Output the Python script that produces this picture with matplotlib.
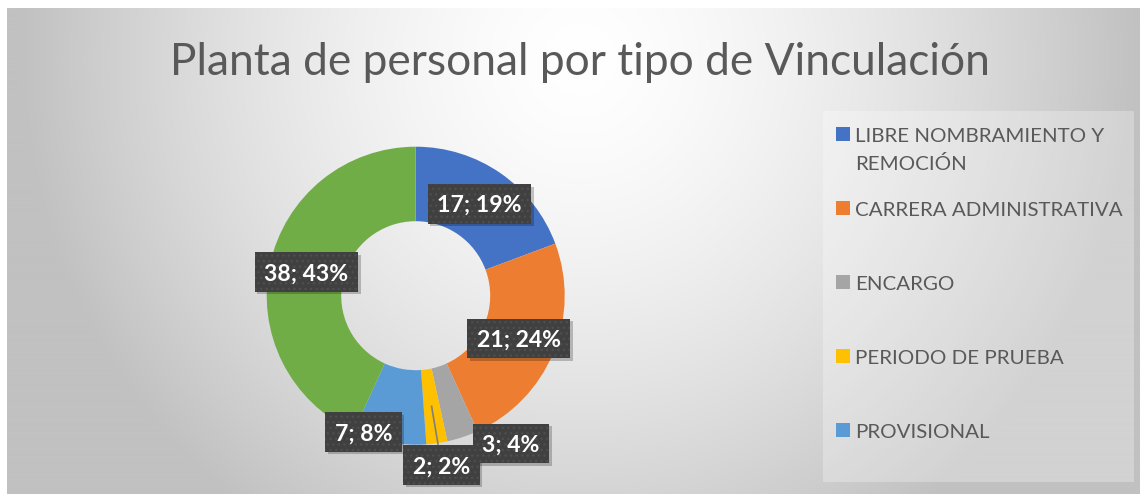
import numpy as np
import matplotlib
matplotlib.use("Agg")
import matplotlib.pyplot as plt
from matplotlib.patches import Rectangle

# ---------------- data ----------------
title = "Planta de personal por tipo de Vinculación"
categories = ["LIBRE NOMBRAMIENTO Y\nREMOCIÓN", "CARRERA ADMINISTRATIVA",
              "ENCARGO", "PERIODO DE PRUEBA", "PROVISIONAL", ""]
values = [17, 21, 3, 2, 7, 38]
percents = [19, 24, 4, 2, 8, 43]
colors = ["#4472C4", "#ED7D31", "#A5A5A5", "#FFC000", "#5B9BD5", "#70AD47"]

# ---------------- label placement (style) ----------------
label_r = [0.75, 0.75, 1.18, 1.15, 0.98, 0.75]
label_dang = [0, 0, 14.4, 0.5, -10.8, 0]
leader = [False, False, False, True, False, False]

W, H = 1140, 494
fig = plt.figure(figsize=(W / 100, H / 100), dpi=100)
fig.patch.set_facecolor("white")
FONT = "Lato"
TXT = "#595959"

# ---------------- background (pixel coordinates) ----------------
bg = fig.add_axes([0, 0, 1, 1])
bg.set_xlim(0, W)
bg.set_ylim(H, 0)
bg.axis("off")
yy, xx = np.mgrid[9:H, 7:W].astype(float)
d = np.sqrt((xx - 580) ** 2 + (yy - 60) ** 2) / 560.0
val = (255 - 62 * np.clip(d, 0, 1) ** 1.5) / 255.0
img = np.dstack([val, val, val])
bg.imshow(img, extent=[7, W, H, 9], aspect="auto", interpolation="bilinear", zorder=0)

# ---------------- donut ----------------
cx, cy, R = 415.7, 295.7, 149.0
k = 1.4
ax = fig.add_axes([(cx - R * k) / W, (H - cy - R * k) / H, 2 * R * k / W, 2 * R * k / H])
wedges, _ = ax.pie(values, colors=colors, startangle=90, counterclock=False, radius=1,
                   wedgeprops=dict(width=0.5, edgecolor="none", linewidth=0))
ax.set_xlim(-k, k)
ax.set_ylim(-k, k)
ax.axis("off")
ax.patch.set_alpha(0)

# ---------------- overlay (pixel coordinates) ----------------
ov = fig.add_axes([0, 0, 1, 1])
ov.set_xlim(0, W)
ov.set_ylim(H, 0)
ov.axis("off")
ov.patch.set_alpha(0)

renderer = fig.canvas.get_renderer()


def fit_size(txt, target, fs0=20, **kw):
    t = ov.text(0, 0, txt, fontsize=fs0, family=FONT, **kw)
    w = t.get_window_extent(renderer).width
    t.remove()
    return fs0 * target / w


def to_px(x, y):
    px, py = ax.transData.transform((x, y))
    return px, H - py


CAP = 0.72  # cap height / em

# title
fs_title = fit_size(title, 820)
ov.text(580, 75, title, fontsize=fs_title, family=FONT, color=TXT,
        ha="center", va="baseline")

# labels
fs_lab = fit_size("17; 19%", 84, fontweight="bold")
cap_lab = CAP * fs_lab * 100 / 72
for i, w in enumerate(wedges):
    mid = np.deg2rad((w.theta1 + w.theta2) / 2)
    ang = mid + np.deg2rad(label_dang[i])
    lx, ly = label_r[i] * np.cos(ang), label_r[i] * np.sin(ang)
    px, py = to_px(lx, ly)
    if leader[i]:
        sx, sy = to_px(0.75 * np.cos(mid), 0.75 * np.sin(mid))
        ov.plot([sx, px], [sy, py], color="#7f7f7f", lw=1.2, zorder=2)
    s = f"{values[i]}; {percents[i]}%"
    t = ov.text(px, py + cap_lab / 2, s, fontsize=fs_lab, family=FONT,
                fontweight="bold", color="white", ha="center", va="baseline", zorder=6)
    tw = t.get_window_extent(renderer).width
    bw, bh = tw + 19, 39.5
    ov.add_patch(Rectangle((px - bw / 2 + 2.5, py - bh / 2 + 2.5), bw, bh,
                           facecolor="black", alpha=0.22, lw=0, zorder=3))
    ov.add_patch(Rectangle((px - bw / 2, py - bh / 2), bw, bh, facecolor="#404040",
                           edgecolor="#4e4e4e", hatch="...", lw=0, zorder=4))

# legend
ov.add_patch(Rectangle((822.7, 110.7), 1134 - 822.7, 481.7 - 110.7,
                       facecolor="white", alpha=0.28, lw=0, zorder=1))
fs_leg = fit_size("CARRERA ADMINISTRATIVA", 267)
cap_leg = CAP * fs_leg * 100 / 72
leg_y0, leg_step, line_step = 134.3, 74.0, 28.5
n = 0
for i, name in enumerate(categories):
    if not name:
        continue
    yc = leg_y0 + n * leg_step
    ov.add_patch(Rectangle((836, yc - 7), 14, 14, facecolor=colors[i], lw=0, zorder=2))
    for j, line in enumerate(name.split("\n")):
        ov.text(855, yc + cap_leg / 2 + j * line_step, line, fontsize=fs_leg,
                family=FONT, color=TXT, ha="left", va="baseline", zorder=2)
    n += 1

fig.savefig("out.png", dpi=100)
